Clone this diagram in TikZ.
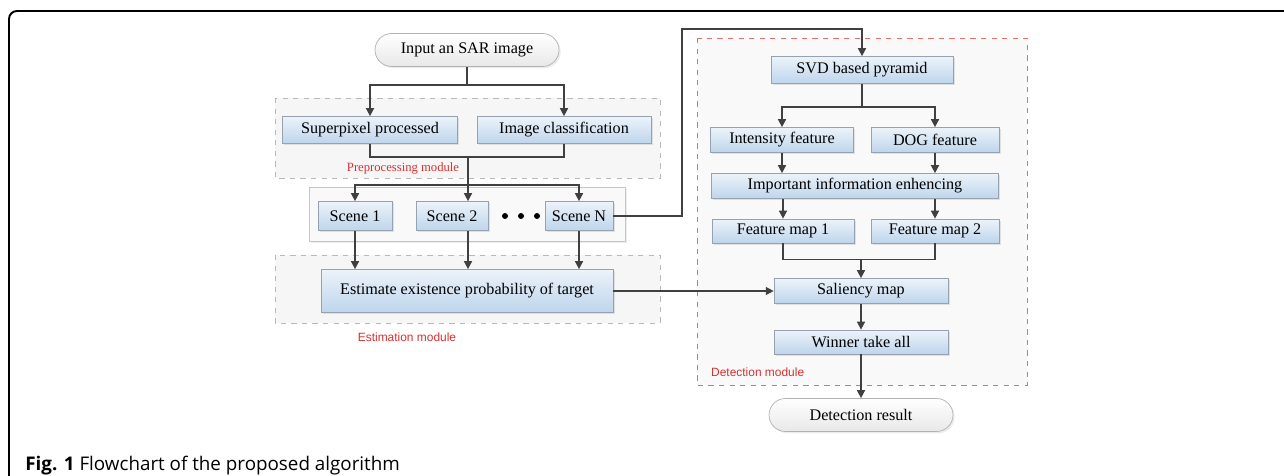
\documentclass[tikz,border=0pt]{standalone}
\usepackage{fontspec}
\setmainfont{Liberation Serif}
\newfontfamily\labfont{Liberation Sans}
\newfontfamily\capfont{Open Sans}
\usepackage{tikz}
\usetikzlibrary{arrows.meta, shadows}
\usepackage{color}

\definecolor{boxtop}{RGB}{236,243,250}
\definecolor{boxbot}{RGB}{190,213,236}
\definecolor{boxline}{RGB}{150,162,176}
\definecolor{arrowgray}{RGB}{64,64,64}
\definecolor{modred}{RGB}{214,48,48}
\definecolor{modfill}{RGB}{246,246,246}

\begin{document}
\begin{tikzpicture}[x=0.02cm, y=-0.02cm,
    every node/.style={font=\fontsize{9.2}{11}\selectfont},
    blk/.style={draw=boxline, top color=boxtop, bottom color=boxbot, inner sep=0pt,
                drop shadow={opacity=0.2, shadow xshift=1pt, shadow yshift=-1pt}},
    term/.style={draw=gray!60, top color=white, bottom color=gray!18, inner sep=0pt,
                 rounded corners=0.33cm, minimum width=3.68cm, minimum height=0.66cm,
                 drop shadow={opacity=0.15, shadow xshift=1pt, shadow yshift=-1pt}},
    module/.style={draw=gray!55, dashed, fill=modfill},
    modlabel/.style={text=modred, font=\labfont\fontsize{6.8}{8}\selectfont},
    arr/.style={draw=arrowgray, line width=0.85pt, -{Triangle[length=4.5pt, width=4.5pt]}},
    ln/.style={draw=arrowgray, line width=0.85pt}]
    \useasboundingbox (0,0) rectangle (1284,476);
    % outer frame
    \draw[line width=1.1pt, rounded corners=0.16cm] (9,480) -- (9,11) -- (1290,11);
    % module frames
    \draw[module] (275,98) rectangle (660,178);
    \draw[module] (275,255) rectangle (660,323);
    \draw[module, draw=modred!70, fill=gray!5] (697,38) rectangle (1027,385);
    \draw[draw=gray!45, fill=gray!5, drop shadow={opacity=0.15, shadow xshift=1pt, shadow yshift=-1pt}]
        (309,187) rectangle (625,241);
    \node[modlabel, font=\fontsize{7.2}{8}\selectfont] (prelab) at (403,168) {Preprocessing module};
    \node[modlabel] (estlab) at (407,337) {Estimation module};
    \node[modlabel, anchor=west] (detlab) at (705,372) {Detection module};

    % left part
    \node[term] (inp) at (467,50) {Input an SAR image};
    \node[blk, minimum width=3.5cm, minimum height=0.54cm] (sup) at (370,130) {Superpixel processed};
    \node[blk, minimum width=3.48cm, minimum height=0.54cm] (cls) at (564,130) {Image classification};
    \node[blk, minimum width=1.48cm, minimum height=0.58cm] (s1) at (355,216) {Scene 1};
    \node[blk, minimum width=1.44cm, minimum height=0.58cm] (s2) at (452,216) {Scene 2};
    \node[blk, minimum width=1.36cm, minimum height=0.58cm] (sN) at (579,216) {Scene N};
    \foreach \dx in {505,521,537}
        \fill (\dx,216) circle (1.7pt);
    \node[blk, minimum width=5.84cm, minimum height=0.86cm] (est) at (467,291) {Estimate existence probability of target};

    % right part
    \node[blk, minimum width=3.64cm, minimum height=0.54cm] (svd) at (862,70) {SVD based pyramid};
    \node[blk, minimum width=2.86cm, minimum height=0.5cm] (int) at (782,140) {Intensity feature};
    \node[blk, minimum width=2.56cm, minimum height=0.5cm] (dog) at (935,140) {DOG feature};
    \node[blk, minimum width=5.74cm, minimum height=0.5cm] (imp) at (855,186) {Important information enhencing};
    \node[blk, minimum width=2.84cm, minimum height=0.48cm] (fm1) at (783,231) {Feature map 1};
    \node[blk, minimum width=2.56cm, minimum height=0.48cm] (fm2) at (935,231) {Feature map 2};
    \node[blk, minimum width=3.48cm, minimum height=0.5cm] (sal) at (861,291) {Saliency map};
    \node[blk, minimum width=3.48cm, minimum height=0.48cm] (win) at (861,342) {Winner take all};
    \node[term] (res) at (861,415) {Detection result};

    \coordinate (mrg) at (468,156);
    \coordinate (spl) at (468,185);
    \coordinate (bend) at (682,29);

    % connectors
    \draw[arr] (inp.south) -- ++(0,18) -| (sup.north);
    \draw[arr] (inp.south) -- ++(0,18) -| (cls.north);
    \draw[ln] (sup.south) -- ++(0,13) -| (cls.south);
    \draw[arr] (mrg) -- (mrg |- s2.north);
    \draw[arr] (spl) -| (s1.north);
    \draw[arr] (spl) -| (sN.north);
    \draw[arr] (s1.south) -- (s1.south |- est.north);
    \draw[arr] (mrg |- s2.south) -- (mrg |- est.north);
    \draw[arr] (sN.south) -- (sN.south |- est.north);
    \draw[arr] (sN.east) -| (bend) -| (svd.north);
    \draw[arr] (est.east) -- (sal.west);
    \draw[arr] (svd.south) -- ++(0,23) -| (int.north);
    \draw[arr] (svd.south) -- ++(0,23) -| (dog.north);
    \draw[arr] (int.south) -- (int.south |- imp.north);
    \draw[arr] (dog.south) -- (dog.south |- imp.north);
    \draw[arr] (fm1.north |- imp.south) -- (fm1.north);
    \draw[arr] (fm2.north |- imp.south) -- (fm2.north);
    \draw[ln] (fm1.south) -- ++(0,16) -| (fm2.south);
    \draw[arr] (sal.north) ++(0,-19) -- (sal.north);
    \draw[arr] (sal.south) -- (win.north);
    \draw[arr] (win.south) -- (res.north);

    % caption
    \node[anchor=west, inner sep=0pt, font=\capfont\fontsize{10.7}{12}\selectfont] (cap) at (25,466)
        {\textbf{Fig. 1} Flowchart of the proposed algorithm};
\end{tikzpicture}
\end{document}
